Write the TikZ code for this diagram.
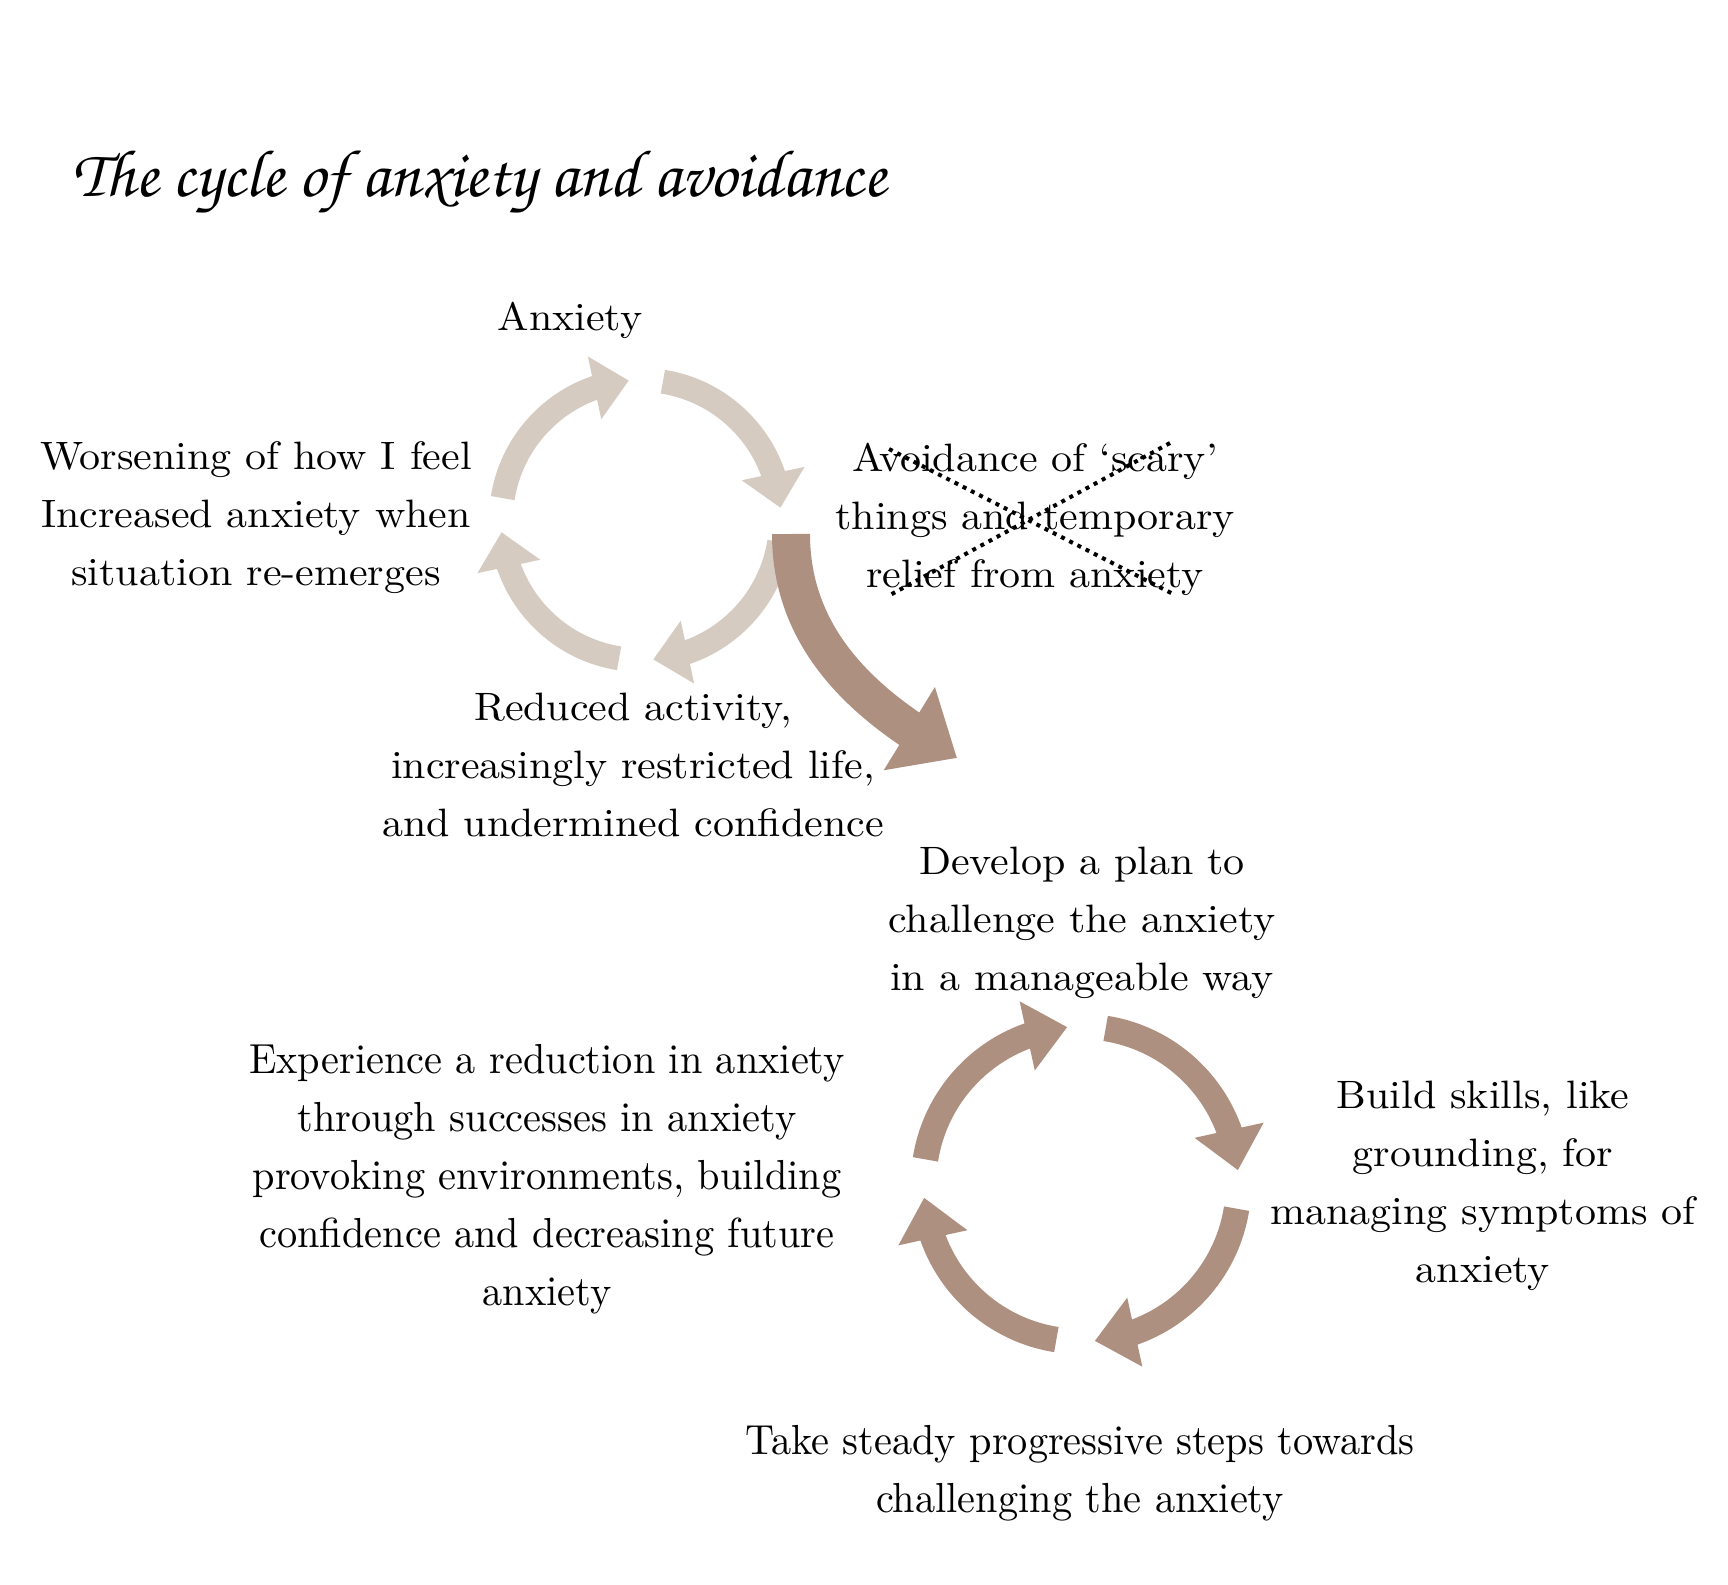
\documentclass[tikz,border=0pt]{standalone}
\usepackage{fontspec}
\setmainfont{lmroman10-regular.otf}[FakeStretch=1.06]
\newfontfamily\condfont{lmroman10-regular.otf}[FakeStretch=0.96]
\newfontfamily\handfont{texgyrechorus-mediumitalic.otf}
\usetikzlibrary{arrows.meta,bending}
\definecolor{ringlight}{RGB}{213,203,193}
\definecolor{ringbrown}{RGB}{174,144,128}
\begin{document}
\begin{tikzpicture}[x=0.5pt,y=-0.5pt,font=\fontsize{19.8}{29}\selectfont]
	\useasboundingbox (0,0) rectangle (1728,1584);
	\fill[white] (0,0) rectangle (1728,1584);
	\tikzset{txt/.style={align=center,anchor=base,inner sep=0pt},
		condtxt/.style={txt,font=\condfont\fontsize{21}{29}\selectfont},
		lightarc/.style={ringlight,line width=12pt,-{Triangle[length=17.5pt,width=31pt,flex]}},
		brownarc/.style={ringbrown,line width=12.75pt,-{Triangle[length=20.5pt,width=34pt,flex]}},
		bigarrow/.style={ringbrown,line width=19pt,-{Triangle[length=28pt,width=47pt,flex]}},
		crossdots/.style={line width=2pt,dash pattern=on 2pt off 2.6pt}}
	\node[anchor=base west,inner sep=0pt] (title) at (72,196) {\resizebox{407pt}{!}{\handfont The cycle of anxiety and avoidance}};
	\coordinate (top) at (641,520);
	\coordinate (bot) at (1081,1184);
	\foreach \a in {9,99,189,279}{\draw[lightarc] (top) ++(\a:140) arc[start angle=\a,end angle=\a+76,radius=140];}
	\foreach \a in {9,99,189,279}{\draw[brownarc] (bot) ++(\a:157.5) arc[start angle=\a,end angle=\a+76,radius=157.5];}
	\coordinate (bigtail) at (791,534);
	\coordinate (bighead) at (957,758);
	\draw[bigarrow] (bigtail) .. controls (791,650) and (880,715) .. (bighead);
	\node[txt] (anx) at (570,330) {Anxiety};
	\node[txt] (avoid) at (1035,587) {Avoidance of ‘scary’\\things and temporary\\relief from anxiety};
	\node[txt] (worse) at (256,585) {Worsening of how I feel\\Increased anxiety when\\situation re-emerges};
	\node[txt] (reduced) at (633,836) {Reduced activity,\\increasingly restricted life,\\and undermined confidence};
	\node[txt] (plan) at (1082,990) {Develop a plan to\\challenge the anxiety\\in a manageable way};
	\node[txt] (skills) at (1483,1282) {Build skills, like\\grounding, for\\managing symptoms of\\anxiety};
	\node[condtxt] (reduce) at (547,1305) {Experience a reduction in anxiety\\through successes in anxiety\\provoking environments, building\\confidence and decreasing future\\anxiety};
	\node[condtxt] (steps) at (1080,1512) {Take steady progressive steps towards\\challenging the anxiety};
	\coordinate (x1) at (889,449);
	\coordinate (x2) at (1173,594);
	\coordinate (x3) at (1170,443);
	\coordinate (x4) at (890,595);
	\draw[crossdots] (x1) -- (x2);
	\draw[crossdots] (x3) -- (x4);
\end{tikzpicture}
\end{document}
